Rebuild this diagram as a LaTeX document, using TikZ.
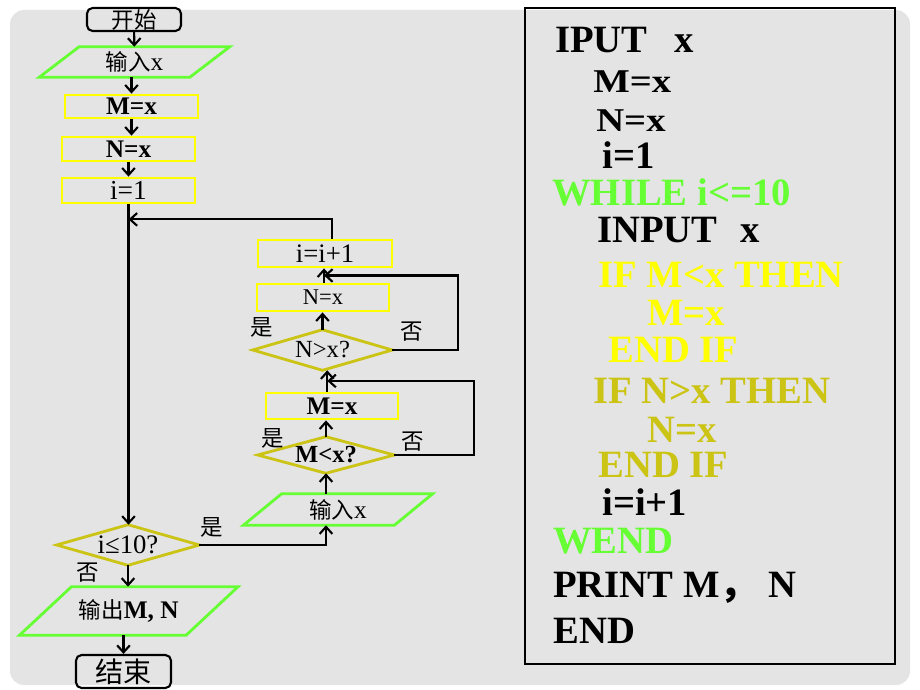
\documentclass[tikz,border=0pt]{standalone}
\usepackage{fontspec}
\setmainfont{Liberation Serif}
\newfontfamily\cjk{Noto Sans CJK SC}
\usetikzlibrary{arrows.meta,calc}
\definecolor{bggray}{RGB}{228,228,228}
\definecolor{iogreen}{RGB}{102,255,51}
\definecolor{procyellow}{RGB}{255,255,0}
\definecolor{condyellow}{RGB}{204,196,20}
\def\slantbox[#1](#2)(#3){\draw[#1] ([xshift=#3]#2.north west) -- ([xshift=#3]#2.north east) -- ([xshift=-#3]#2.south east) -- ([xshift=-#3]#2.south west) -- cycle;}
\def\diamondbox[#1](#2){\draw[#1] (#2.west) -- (#2.north) -- (#2.east) -- (#2.south) -- cycle;}
\def\fs#1{\fontsize{#1}{#1}\selectfont}

\begin{document}
\begin{tikzpicture}[x=0.025cm, y=-0.025cm,
  arr/.style={line width=1.5pt, -{Straight Barb[length=5pt,width=9pt]}},
  term/.style={draw=black, line width=1.5pt, rounded corners=4pt, inner sep=0pt},
  proc/.style={draw=procyellow, line width=2pt, inner sep=0pt, font=\fs{18}},
  io/.style={inner sep=0pt, font=\fs{18}},
  iobox/.style={draw=iogreen, line width=2pt},
  cond/.style={inner sep=0pt, font=\fs{17.5}},
  condbox/.style={draw=condyellow, line width=2pt},
  lbl/.style={inner sep=0pt, font=\cjk\fs{16}},
  code/.style={inner sep=0pt, anchor=base west, font=\fs{27.5}\bfseries}]
			%%%%% BACKGROUND %%%%%
			\fill[white] (0,0) rectangle (920,690);
			\fill[bggray, rounded corners=10pt] (10,10) rectangle (910,685);
			
			%%%%% FLOWCHART %%%%%
			\node[term, minimum width=2.35cm, minimum height=0.575cm, font=\cjk\fs{16}] (start) at (134,19.5) {开始};
			\node[io, minimum width=3.75cm, minimum height=0.75cm] (in1) at (134.5,62) {{\cjk\fs{16}输入}x};
			\node[proc, minimum width=3.325cm, minimum height=0.575cm] (mx1) at (131.5,106.5) {\textbf{M=x}};
			\node[proc, minimum width=3.325cm, minimum height=0.6cm] (nx1) at (128.5,149) {\textbf{N=x}};
			\node[proc, minimum width=3.325cm, minimum height=0.625cm, font=\fs{19.5}] (i1) at (128.5,190.5) {i=1};
			\node[cond, minimum width=3.55cm, minimum height=1cm, font=\fs{19}] (lim) at (128,545) {i≤10?};
			\node[io, minimum width=4.15cm, minimum height=1.2cm] (out) at (128.75,611) {{\cjk\fs{16}输出}\textbf{M, N}};
			\node[term, minimum width=2.375cm, minimum height=0.825cm, font=\cjk\fs{20}] (stop) at (123.5,671.5) {结束};
			
			\node[io, minimum width=3.76cm, minimum height=0.775cm] (in2) at (338,509.5) {{\cjk\fs{16}输入}x};
			\node[cond, minimum width=3.4cm, minimum height=0.9cm] (mlt) at (326,455) {\textbf{M<x?}};
			\node[proc, minimum width=3.3cm, minimum height=0.65cm] (mx2) at (332,406) {\textbf{M=x}};
			\node[cond, minimum width=3.475cm, minimum height=1cm] (ngt) at (322.5,350) {N>x?};
			\node[proc, minimum width=3.3cm, minimum height=0.675cm, font=\fs{16}] (nx2) at (323,297.5) {N=x};
			\node[proc, minimum width=3.35cm, minimum height=0.675cm, font=\fs{19}] (inc) at (325,253.5) {i=i+1};
			
			\slantbox[iobox](in1)(0.5cm)
			\slantbox[iobox](in2)(0.48cm)
			\slantbox[iobox](out)(0.65cm)
			\diamondbox[condbox](lim)
			\diamondbox[condbox](mlt)
			\diamondbox[condbox](ngt)
			
			\draw[arr] (start) -- (in1);
			\draw[arr] (in1.south -| mx1.north) -- (mx1.north);
			\draw[arr] (mx1.south) -- (mx1.south |- nx1.north);
			\draw[arr] (nx1.south) -- (i1.north);
			\draw[arr] (i1.south) -- (i1.south |- lim.north);
			\draw[arr] (lim.south) -- (lim.south |- out.north);
			\draw[arr] (stop.north |- out.south) -- (stop.north);
			
			\draw[arr] (lim.east) -| (in2.south -| mlt.south);
			\draw[arr] (in2.north -| mlt.south) -- (mlt.south);
			\draw[arr] (mlt.north) -- (mlt.north |- mx2.south);
			\coordinate (j1) at ($(ngt.south)!0.5!(mx2.north)$);
			\draw[arr] (mx2.north -| j1) -- (ngt.south -| j1);
			\draw[arr] (mlt.east) -- ++(80,0) |- (j1);
			\draw[arr] (ngt.north) -- (ngt.north |- nx2.south);
			\coordinate (j2) at ($(inc.south)!0.5!(nx2.north)$);
			\draw[arr] (nx2.north -| j2) -- (inc.south -| j2);
			\draw[arr] (ngt.east) -- ++(66,0) |- (j2);
			\coordinate (back) at ($(i1.south)+(0,15)$);
			\draw[arr] ([xshift=0.175cm]inc.north) |- (back);
			
			\node[lbl] (yes1) at (212,527) {是};
			\node[lbl] (no1) at (88,573) {否};
			\node[lbl] (yes2) at (262,327) {是};
			\node[lbl] (no2) at (412,332) {否};
			\node[lbl] (yes3) at (273,438) {是};
			\node[lbl] (no3) at (413,442) {否};
			
			%%%%% PROGRAM %%%%%
			\draw[line width=1.5pt] (525,8) rectangle (895,664);
			\node[code] (c1) at (555,53) {IPUT\hspace{0.7em}x};
			\node[code] (c2) at (593,93) {\scalebox{1}[0.86]{M=x}};
			\node[code] (c3) at (596,131) {\scalebox{1}[0.86]{N=x}};
			\node[code] (c4) at (602,168) {i=1};
			\node[code, text=iogreen] (c5) at (552,205) {WHILE i<=10};
			\node[code] (c6) at (597,242) {INPUT\hspace{0.6em}x};
			\node[code, text=procyellow] (c7) at (598,287) {IF M<x THEN};
			\node[code, text=procyellow] (c8) at (647,325) {M=x};
			\node[code, text=procyellow] (c9) at (608,362) {END IF};
			\node[code, text=condyellow] (c10) at (593,403) {IF N>x THEN};
			\node[code, text=condyellow] (c11) at (647,442) {N=x};
			\node[code, text=condyellow] (c12) at (598,477) {END IF};
			\node[code] (c13) at (602,515) {i=i+1};
			\node[code, text=iogreen] (c14) at (553,553) {WEND};
			\node[code] (c15) at (553,597) {PRINT M{\cjk ，} N};
			\node[code] (c16) at (553,643) {END};
		\end{tikzpicture}
\end{document}
